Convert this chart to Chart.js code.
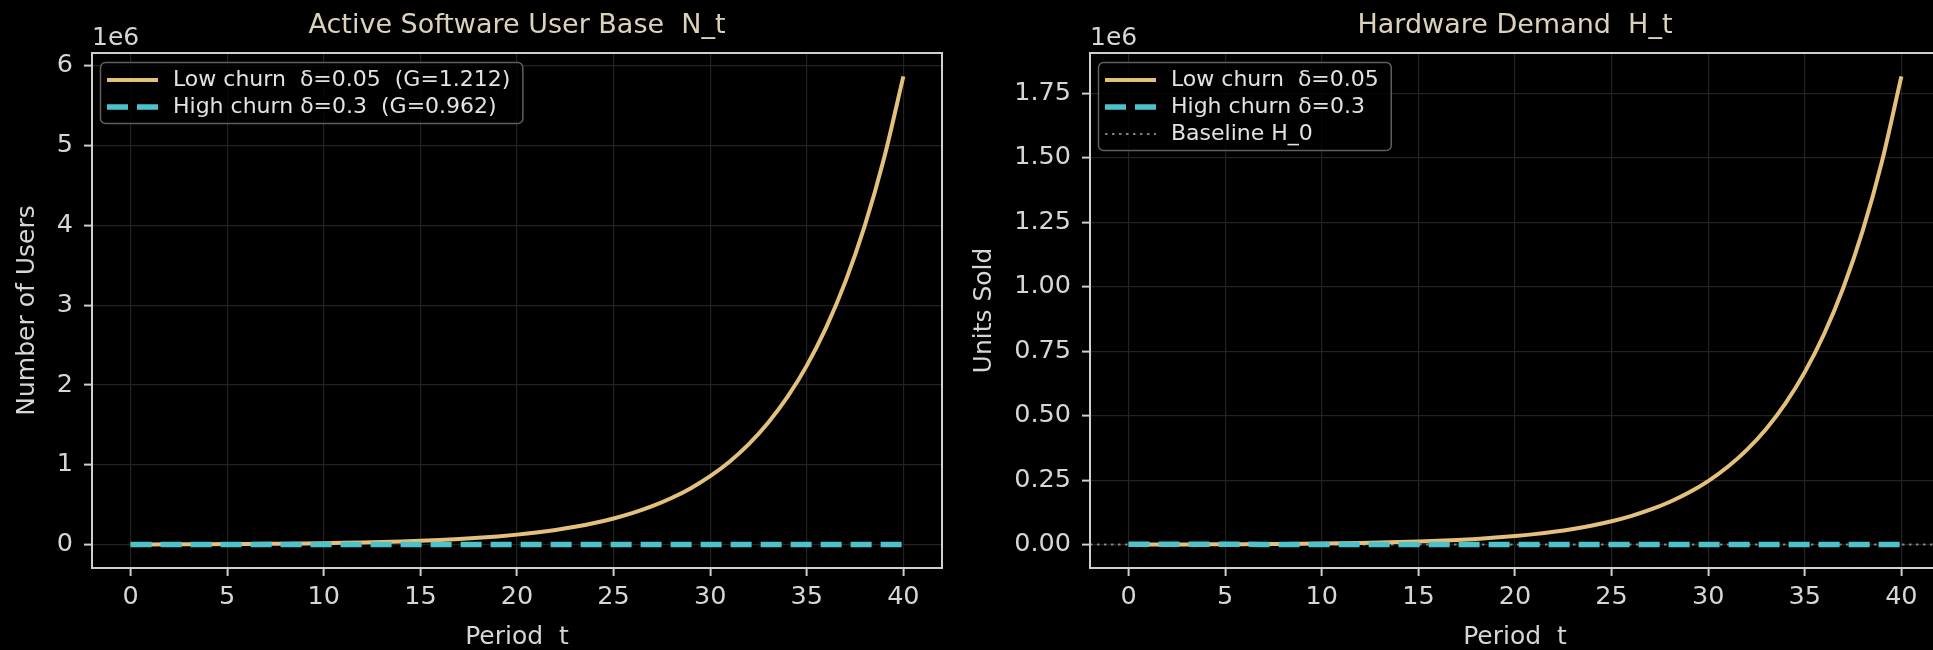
<!DOCTYPE html>
<html><head><meta charset="utf-8">
<script src="https://cdn.jsdelivr.net/npm/chart.js@4.4.1/dist/chart.umd.min.js"></script>
<style>
html,body{margin:0;padding:0;background:#000;overflow:hidden;width:1933px;height:650px;position:relative;}
#c1{position:absolute;left:0;top:0;}
#c2{position:absolute;left:966px;top:0;}
</style></head><body>
<canvas id="c1" width="966" height="650" style="width:966px;height:650px"></canvas>
<canvas id="c2" width="1000" height="650" style="width:1000px;height:650px"></canvas>
<script>
// ---------- data ----------
const periods = [0,1,2,3,4,5,6,7,8,9,10,11,12,13,14,15,16,17,18,19,20,21,22,23,24,25,26,27,28,29,30,31,32,33,34,35,36,37,38,39,40];
const usersLowChurn = [2680,3250,3940,4770,5780,7010,8500,10300,12480,15120,18330,22220,26930,32630,39550,47940,58100,70420,85350,103400,125400,151900,184200,223200,270500,327900,397400,481600,583700,707500,857500,1039000,1260000,1527000,1850000,2242000,2718000,3294000,3992000,4839000,5865000];
const usersHighChurn = [2680,2578,2480,2386,2295,2208,2124,2043,1966,1891,1819,1750,1683,1619,1558,1499,1442,1387,1334,1283,1235,1188,1143,1099,1057,1017,979,941,906,871,838,806,776,746,718,691,664,639,615,591,569];
const hwLowChurn = [617,753,920,1123,1371,1674,2044,2496,3048,3721,4544,5548,6774,8271,10100,12330,15060,18380,22450,27410,33460,40860,49890,60910,74370,90810,110900,135400,165300,201800,246400,300900,367400,448600,547800,668800,816600,997100,1217000,1486000,1815000];
const hwHighChurn = [1506,1449,1394,1341,1290,1241,1194,1148,1105,1063,1022,984,946,910,876,842,810,779,750,721,694,668,642,618,594,572,550,529,509,490,471,453,436,419,404,388,373,359,346,332,320];
const hwBaseline = 620;

const xTicks = [0,5,10,15,20,25,30,35,40];
const yTicksUsers = [0,1000000,2000000,3000000,4000000,5000000,6000000];
const yTickLabelsUsers = ['0','1','2','3','4','5','6'];
const yTicksHw = [0,250000,500000,750000,1000000,1250000,1500000,1750000];
const yTickLabelsHw = ['0.00','0.25','0.50','0.75','1.00','1.25','1.50','1.75'];

const legendUsers = ['Low churn  δ=0.05  (G=1.212)','High churn δ=0.3  (G=0.962)'];
const legendHw = ['Low churn  δ=0.05','High churn δ=0.3','Baseline H_0'];

// ---------- style ----------
const FONT = '"DejaVu Sans"';
const GOLD = '#e3c07c';
const CYAN = '#4cc3cb';
const SPINE = '#cfcfcf';
const GRID = '#222222';
const TXT = '#d6d6d6';
const TITLE_C = '#dbd2ba';
const X_MIN = -2, X_MAX = 42;

const pts = (ys) => periods.map((t,i)=>({x:t,y:ys[i]}));
function margins(arrs){
  const all = [].concat(...arrs);
  const mn = Math.min(...all), mx = Math.max(...all);
  const r = mx - mn;
  return {min: mn - 0.05*r, max: mx + 0.05*r};
}

const decorPlugin = {
  id:'decor',
  afterDraw(chart, args, opts){
    const {ctx, chartArea:a} = chart;
    ctx.save();
    // spines
    ctx.strokeStyle = SPINE; ctx.lineWidth = 2; ctx.setLineDash([]);
    ctx.strokeRect(a.left, a.top, a.right-a.left, a.bottom-a.top);
    // title
    ctx.fillStyle = TITLE_C; ctx.font = '27px '+FONT;
    ctx.textAlign='center'; ctx.textBaseline='alphabetic';
    ctx.fillText(opts.title, (a.left+a.right)/2, 33);
    // offset text
    ctx.fillStyle = TXT; ctx.font = '25px '+FONT; ctx.textAlign='left';
    ctx.fillText(opts.offset, a.left, 45);
    // legend
    const items = chart.data.datasets;
    ctx.font = '22px '+FONT;
    const bx = a.left + 8, by = 62, r1 = 80, rowH = 27;
    const tx = bx + 73;
    const maxW = Math.max(...items.map(d=>ctx.measureText(d.label).width));
    const bw = tx + maxW + 12 - bx;
    const bh = (r1-by) + (items.length-1)*rowH + 16;
    ctx.beginPath();
    ctx.roundRect(bx+0.5, by+0.5, bw, bh, 5);
    ctx.fillStyle = 'rgba(0,0,0,0.8)'; ctx.fill();
    ctx.strokeStyle = '#5e5e5e'; ctx.lineWidth = 1.5; ctx.stroke();
    items.forEach((d,i)=>{
      const y = r1 + i*rowH;
      ctx.beginPath();
      ctx.strokeStyle = d.borderColor; ctx.lineWidth = d.borderWidth;
      ctx.setLineDash(d.borderDash || []); ctx.lineCap='butt';
      ctx.moveTo(bx+7, y); ctx.lineTo(bx+58, y); ctx.stroke();
      ctx.setLineDash([]);
      ctx.fillStyle = '#e2e2e2'; ctx.textBaseline='middle'; ctx.textAlign='left';
      ctx.fillText(d.label, tx, y);
    });
    ctx.restore();
  }
};

function makeOptions(cfg){
  return {
    responsive:false, animation:false, devicePixelRatio:1,
    layout:{padding:{left:0, top:53, right:cfg.padRight, bottom:0}},
    plugins:{legend:{display:false}, tooltip:{enabled:false}, title:{display:false},
      decor:{title:cfg.title, offset:'1e6'}},
    scales:{
      x:{type:'linear', min:X_MIN, max:X_MAX,
        afterFit(s){ s.height = 82; },
        afterBuildTicks(s){ s.ticks = xTicks.map(v=>({value:v})); },
        grid:{color:GRID, lineWidth:1.2, tickColor:SPINE, tickLength:8, tickWidth:2, drawTicks:true},
        border:{display:false},
        ticks:{color:TXT, font:{family:'DejaVu Sans', size:25.5, lineHeight:1}, padding:9,
          maxRotation:0, autoSkip:false, callback:(v)=>String(v)},
        title:{display:true, text:'Period  t', color:TXT,
          font:{family:'DejaVu Sans', size:25, lineHeight:1}, padding:{top:0,bottom:0}}
      },
      y:{type:'linear', min:cfg.ymin, max:cfg.ymax,
        afterFit(s){ s.width = cfg.yw; },
        afterBuildTicks(s){ s.ticks = cfg.yt.map(v=>({value:v})); },
        grid:{color:GRID, lineWidth:1.2, tickColor:SPINE, tickLength:8, tickWidth:2, drawTicks:true},
        border:{display:false},
        ticks:{color:TXT, font:{family:'DejaVu Sans', size:25.5, lineHeight:1}, padding:11,
          autoSkip:false, callback:(v,i)=>cfg.ytl[i]},
        title:{display:true, text:cfg.ytitle, color:TXT,
          font:{family:'DejaVu Sans', size:25, lineHeight:1}, padding:{top:cfg.ytpad,bottom:0}}
      }
    }
  };
}

const mU = margins([usersLowChurn, usersHighChurn]);
new Chart(document.getElementById('c1'), {
  type:'line',
  data:{datasets:[
    {label:legendUsers[0], data:pts(usersLowChurn), borderColor:GOLD, borderWidth:4,
      pointRadius:0, cubicInterpolationMode:'monotone', fill:false, order:2},
    {label:legendUsers[1], data:pts(usersHighChurn), borderColor:CYAN, borderWidth:5.5,
      borderDash:[21,9], borderCapStyle:'butt', pointRadius:0, tension:0, fill:false, order:1}
  ]},
  options: makeOptions({padRight:24, ymin:mU.min, ymax:mU.max, yw:92, yt:yTicksUsers,
    ytl:yTickLabelsUsers, ytitle:'Number of Users', ytpad:15, title:'Active Software User Base  N_t'}),
  plugins:[decorPlugin]
});

const mH = margins([hwLowChurn, hwHighChurn, [hwBaseline]]);
new Chart(document.getElementById('c2'), {
  type:'line',
  data:{datasets:[
    {label:legendHw[0], data:pts(hwLowChurn), borderColor:GOLD, borderWidth:4,
      pointRadius:0, cubicInterpolationMode:'monotone', fill:false, order:2},
    {label:legendHw[1], data:pts(hwHighChurn), borderColor:CYAN, borderWidth:5.5,
      borderDash:[21,9], borderCapStyle:'butt', pointRadius:0, tension:0, fill:false, order:1},
    {label:legendHw[2], data:[{x:X_MIN,y:hwBaseline},{x:X_MAX,y:hwBaseline}],
      borderColor:'rgba(170,170,170,0.75)', borderWidth:2.2, borderDash:[2.5,4.5],
      pointRadius:0, tension:0, fill:false, order:3}
  ]},
  options: makeOptions({padRight:26, ymin:mH.min, ymax:mH.max, yw:124, yt:yTicksHw,
    ytl:yTickLabelsHw, ytitle:'Units Sold', ytpad:6, title:'Hardware Demand  H_t'}),
  plugins:[decorPlugin]
});
</script>
</body></html>
